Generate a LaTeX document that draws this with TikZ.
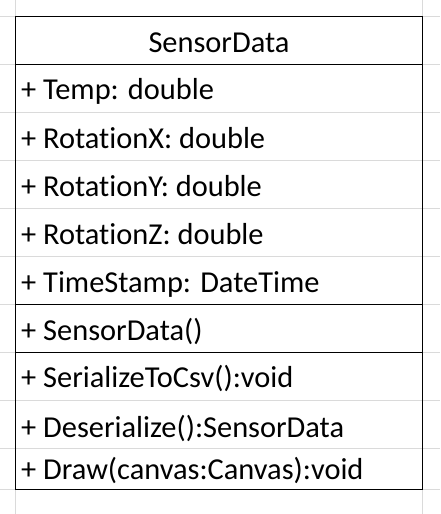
\documentclass[tikz,border=0pt]{standalone}
\usepackage{fontspec}
\setmainfont{Carlito}[Ligatures={NoCommon,NoRequired,NoContextual}]
\definecolor{gridgray}{HTML}{DADADA}
\begin{document}
\begin{tikzpicture}[x=1pt,y=-1pt,
  gridline/.style={draw=gridgray,line width=1pt},
  classline/.style={draw=black,line width=1pt},
  member/.style={anchor=base west,inner sep=0pt,font=\fontsize{30.4}{36}\selectfont},
  title/.style={anchor=base,inner sep=0pt,font=\fontsize{30.4}{36}\selectfont}]
  \useasboundingbox[fill=white] (0,0) rectangle (440,514);
  % spreadsheet cell grid
  \foreach \yy in {16,64,112,160,208,256,304,352,400,448,489}
    \draw[gridline] (0,\yy) -- (440,\yy);
  \foreach \xx in {15.5,422.5}
    \draw[gridline] (\xx,0) -- (\xx,514);
  % class box corners
  \coordinate (tl) at (15.5,16);
  \coordinate (br) at (422.5,489);
  % class name
  \node[title] (name) at (219,52) {SensorData};
  % attributes
  \node[member] (a1) at (21,99) {+ Temp: double};
  \node[member] (a2) at (21,148) {+ RotationX: double};
  \node[member] (a3) at (21,196) {+ RotationY: double};
  \node[member] (a4) at (21,244) {+ RotationZ: double};
  \node[member] (a5) at (21,292) {+ TimeStamp: DateTime};
  % constructor
  \node[member] (c1) at (21,340) {+ SensorData()};
  % operations
  \node[member] (m1) at (21,387) {+ SerializeToCsv():void};
  \node[member] (m2) at (21,437) {+ Deserialize():SensorData};
  \node[member] (m3) at (21,479) {+ Draw(canvas:Canvas):void};
  % outline and compartment dividers
  \draw[classline] (tl) rectangle (br);
  \draw[classline] (tl |- 0,64) -- (br |- 0,64);
  \draw[classline] (tl |- 0,304) -- (br |- 0,304);
  \draw[classline] (tl |- 0,352) -- (br |- 0,352);
\end{tikzpicture}
\end{document}
